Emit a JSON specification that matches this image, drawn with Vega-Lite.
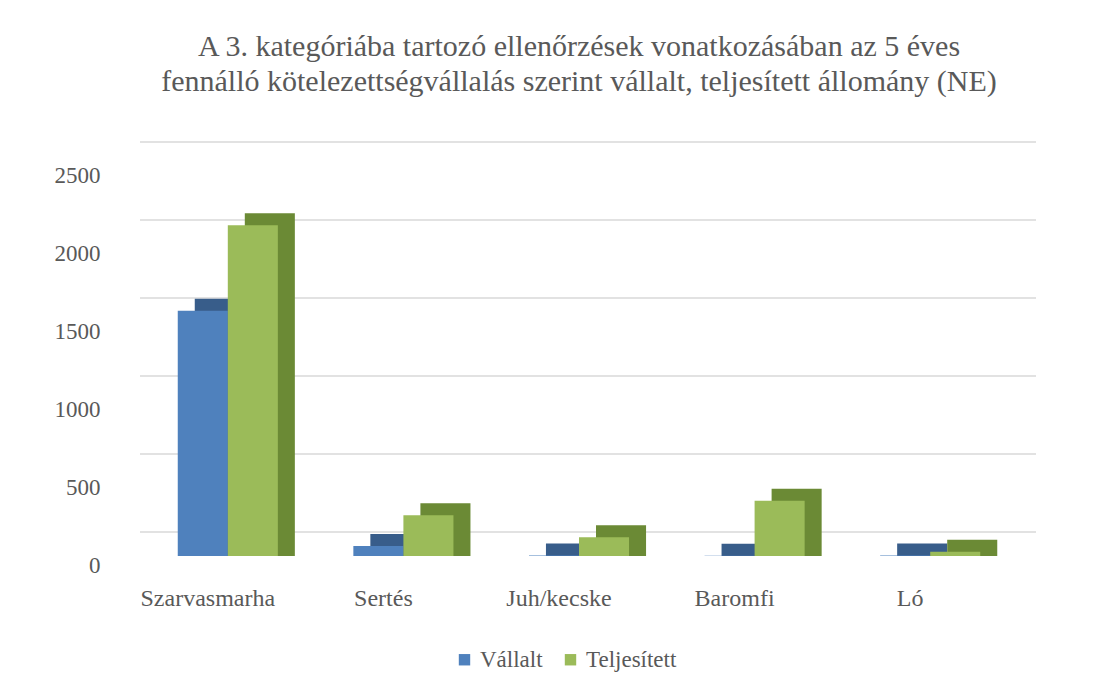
{
  "$schema": "https://vega.github.io/schema/vega-lite/v6.json",
  "autosize": "none",
  "width": 878,
  "height": 390,
  "padding": {"left": 140, "top": 166, "right": 93, "bottom": 135},
  "background": "white",
  "title": {
    "text": ["A 3. kategóriába tartozó ellenőrzések vonatkozásában az 5 éves", "fennálló kötelezettségvállalás szerint vállalt, teljesített állomány (NE)"],
    "font": "Liberation Serif",
    "fontSize": 30,
    "fontWeight": "normal",
    "color": "#595959",
    "anchor": "middle",
    "offset": 44,
    "lineHeight": 35
  },
  "config": {
    "view": {"stroke": null},
    "font": "Liberation Serif"
  },
  "datasets": {
    "bars": [
      {"kategoria": "Szarvasmarha", "sorozat": "Vállalt", "ertek": 1572},
      {"kategoria": "Szarvasmarha", "sorozat": "Teljesített", "ertek": 2120},
      {"kategoria": "Sertés", "sorozat": "Vállalt", "ertek": 64},
      {"kategoria": "Sertés", "sorozat": "Teljesített", "ertek": 262},
      {"kategoria": "Juh/kecske", "sorozat": "Vállalt", "ertek": 4},
      {"kategoria": "Juh/kecske", "sorozat": "Teljesített", "ertek": 120},
      {"kategoria": "Baromfi", "sorozat": "Vállalt", "ertek": 2},
      {"kategoria": "Baromfi", "sorozat": "Teljesített", "ertek": 354},
      {"kategoria": "Ló", "sorozat": "Vállalt", "ertek": 3},
      {"kategoria": "Ló", "sorozat": "Teljesített", "ertek": 28}
    ],
    "grid": [
      {"v": 0}, {"v": 500}, {"v": 1000}, {"v": 1500}, {"v": 2000}, {"v": 2500}
    ]
  },
  "layer": [
    {
      "data": {"name": "grid"},
      "mark": {"type": "rule", "color": "#d9d9d9", "strokeWidth": 1.5, "xOffset": 18, "yOffset": -24},
      "encoding": {
        "y": {"field": "v", "type": "quantitative", "scale": {"domain": [0, 2500]},
          "axis": {"title": null, "domain": false, "ticks": false, "grid": false, "format": "d", "values": [0, 500, 1000, 1500, 2000, 2500], "labelFont": "Liberation Serif", "labelFontSize": 23, "labelColor": "#595959", "labelPadding": 40, "labelOffset": 9}}
      }
    },
    {
      "data": {"name": "bars"},
      "mark": {"type": "bar", "yOffset": -12, "y2Offset": 0},
      "encoding": {
        "x": {"field": "kategoria", "type": "nominal", "sort": null, "scale": {"paddingInner": 0.43, "paddingOuter": 0.215},
          "axis": {"title": null, "domain": false, "ticks": false, "labelAngle": 0, "labelFont": "Liberation Serif", "labelFontSize": 24, "labelColor": "#595959", "labelPadding": 30, "labelOffset": -20}},
        "xOffset": {"field": "sorozat", "type": "nominal", "sort": ["Vállalt", "Teljesített"], "scale": {"domain": ["Vállalt", "Teljesített"], "range": [17, 117.1]}},
        "y": {"field": "ertek", "type": "quantitative", "scale": {"domain": [0, 2500]}},
        "y2": {"datum": 0},
        "color": {"field": "sorozat", "type": "nominal", "sort": ["Vállalt", "Teljesített"], "scale": {"domain": ["Vállalt", "Teljesített"], "range": ["#385d8a", "#6b8a35"]}, "legend": null}
      }
    },
    {
      "data": {"name": "bars"},
      "mark": {"type": "bar"},
      "encoding": {
        "x": {"field": "kategoria", "type": "nominal", "sort": null, "scale": {"paddingInner": 0.43, "paddingOuter": 0.215}},
        "xOffset": {"field": "sorozat", "type": "nominal", "sort": ["Vállalt", "Teljesített"], "scale": {"domain": ["Vállalt", "Teljesített"]}},
        "y": {"field": "ertek", "type": "quantitative", "scale": {"domain": [0, 2500]}},
        "color": {"field": "sorozat", "type": "nominal", "sort": ["Vállalt", "Teljesített"], "scale": {"domain": ["Vállalt", "Teljesített"], "range": ["#4f81bd", "#9bbb59"]},
          "legend": {"title": null, "orient": "none", "legendX": 313, "legendY": 482, "direction": "horizontal", "symbolType": "square", "symbolSize": 130, "symbolStrokeWidth": 0, "labelFont": "Liberation Serif", "labelFontSize": 23, "labelColor": "#595959", "columnPadding": 16}}
      }
    }
  ],
  "resolve": {"scale": {"color": "independent", "xOffset": "independent"}}
}
